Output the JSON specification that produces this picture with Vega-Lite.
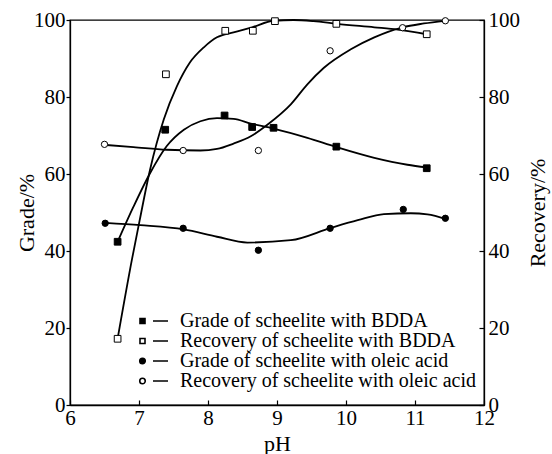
{
  "$schema": "https://vega.github.io/schema/vega-lite/v6.json",
  "width": 414,
  "height": 385,
  "autosize": {"type": "none"},
  "padding": {"left": 70, "top": 20, "right": 68, "bottom": 49},
  "background": "white",
  "config": {
    "font": "'Liberation Serif', 'Times New Roman', Times, serif",
    "view": {"stroke": "black", "strokeWidth": 1.3},
    "axis": {
      "grid": false,
      "domainColor": "black",
      "domainWidth": 1.3,
      "tickColor": "black",
      "tickWidth": 1.2,
      "labelColor": "black",
      "labelFont": "'Liberation Serif', 'Times New Roman', Times, serif",
      "labelFontSize": 21,
      "titleColor": "black",
      "titleFont": "'Liberation Serif', 'Times New Roman', Times, serif",
      "titleFontSize": 22,
      "titleFontWeight": "normal",
      "labelFlush": false,
      "labelOverlap": false
    },
    "legend": {
      "labelFont": "'Liberation Serif', 'Times New Roman', Times, serif",
      "labelFontSize": 20,
      "labelColor": "black",
      "labelLimit": 0,
      "title": null,
      "orient": "none",
      "legendX": 80,
      "legendY": 291,
      "padding": 0,
      "rowPadding": 0,
      "symbolSize": 100,
      "labelOffset": 10,
      "symbolStrokeColor": "black",
      "symbolStrokeWidth": 1.6
    }
  },
  "datasets": {
    "points": [
      {"series": "Grade of scheelite with BDDA", "pH": 6.69, "value": 42.4},
      {"series": "Grade of scheelite with BDDA", "pH": 7.38, "value": 71.5},
      {"series": "Grade of scheelite with BDDA", "pH": 8.24, "value": 75.2},
      {"series": "Grade of scheelite with BDDA", "pH": 8.64, "value": 72.2},
      {"series": "Grade of scheelite with BDDA", "pH": 8.95, "value": 72.0},
      {"series": "Grade of scheelite with BDDA", "pH": 9.86, "value": 67.1},
      {"series": "Grade of scheelite with BDDA", "pH": 11.17, "value": 61.5},
      {"series": "Recovery of scheelite with BDDA", "pH": 6.69, "value": 17.2},
      {"series": "Recovery of scheelite with BDDA", "pH": 7.39, "value": 85.9},
      {"series": "Recovery of scheelite with BDDA", "pH": 8.25, "value": 97.2},
      {"series": "Recovery of scheelite with BDDA", "pH": 8.65, "value": 97.2},
      {"series": "Recovery of scheelite with BDDA", "pH": 8.97, "value": 99.7},
      {"series": "Recovery of scheelite with BDDA", "pH": 9.86, "value": 99.0},
      {"series": "Recovery of scheelite with BDDA", "pH": 11.17, "value": 96.3},
      {"series": "Grade of scheelite with oleic acid", "pH": 6.51, "value": 47.2},
      {"series": "Grade of scheelite with oleic acid", "pH": 7.64, "value": 45.9},
      {"series": "Grade of scheelite with oleic acid", "pH": 8.73, "value": 40.2},
      {"series": "Grade of scheelite with oleic acid", "pH": 9.77, "value": 45.9},
      {"series": "Grade of scheelite with oleic acid", "pH": 10.83, "value": 50.8},
      {"series": "Grade of scheelite with oleic acid", "pH": 11.44, "value": 48.5},
      {"series": "Recovery of scheelite with oleic acid", "pH": 6.5, "value": 67.7},
      {"series": "Recovery of scheelite with oleic acid", "pH": 7.64, "value": 66.1},
      {"series": "Recovery of scheelite with oleic acid", "pH": 8.73, "value": 66.1},
      {"series": "Recovery of scheelite with oleic acid", "pH": 9.77, "value": 92.0},
      {"series": "Recovery of scheelite with oleic acid", "pH": 10.82, "value": 98.0},
      {"series": "Recovery of scheelite with oleic acid", "pH": 11.44, "value": 99.8}
    ],
    "curves": [
      {"series": "Grade of scheelite with BDDA", "pH": 6.7, "value": 42.8},
      {"series": "Grade of scheelite with BDDA", "pH": 6.92, "value": 51.5},
      {"series": "Grade of scheelite with BDDA", "pH": 7.16, "value": 60.2},
      {"series": "Grade of scheelite with BDDA", "pH": 7.4, "value": 67.2},
      {"series": "Grade of scheelite with BDDA", "pH": 7.65, "value": 71.5},
      {"series": "Grade of scheelite with BDDA", "pH": 7.89, "value": 73.7},
      {"series": "Grade of scheelite with BDDA", "pH": 8.13, "value": 74.5},
      {"series": "Grade of scheelite with BDDA", "pH": 8.37, "value": 74.3},
      {"series": "Grade of scheelite with BDDA", "pH": 8.62, "value": 73.1},
      {"series": "Grade of scheelite with BDDA", "pH": 8.95, "value": 71.8},
      {"series": "Grade of scheelite with BDDA", "pH": 9.44, "value": 69.4},
      {"series": "Grade of scheelite with BDDA", "pH": 9.86, "value": 67.0},
      {"series": "Grade of scheelite with BDDA", "pH": 10.41, "value": 64.2},
      {"series": "Grade of scheelite with BDDA", "pH": 10.89, "value": 62.4},
      {"series": "Grade of scheelite with BDDA", "pH": 11.17, "value": 61.7},
      {"series": "Recovery of scheelite with BDDA", "pH": 6.69, "value": 17.2},
      {"series": "Recovery of scheelite with BDDA", "pH": 6.9, "value": 38.0},
      {"series": "Recovery of scheelite with BDDA", "pH": 7.01, "value": 48.0},
      {"series": "Recovery of scheelite with BDDA", "pH": 7.16, "value": 61.1},
      {"series": "Recovery of scheelite with BDDA", "pH": 7.36, "value": 74.2},
      {"series": "Recovery of scheelite with BDDA", "pH": 7.55, "value": 82.8},
      {"series": "Recovery of scheelite with BDDA", "pH": 7.74, "value": 89.0},
      {"series": "Recovery of scheelite with BDDA", "pH": 7.94, "value": 92.9},
      {"series": "Recovery of scheelite with BDDA", "pH": 8.13, "value": 95.5},
      {"series": "Recovery of scheelite with BDDA", "pH": 8.37, "value": 96.8},
      {"series": "Recovery of scheelite with BDDA", "pH": 8.64, "value": 98.1},
      {"series": "Recovery of scheelite with BDDA", "pH": 8.95, "value": 99.8},
      {"series": "Recovery of scheelite with BDDA", "pH": 9.24, "value": 100.0},
      {"series": "Recovery of scheelite with BDDA", "pH": 9.53, "value": 99.7},
      {"series": "Recovery of scheelite with BDDA", "pH": 9.87, "value": 99.0},
      {"series": "Recovery of scheelite with BDDA", "pH": 10.41, "value": 98.1},
      {"series": "Recovery of scheelite with BDDA", "pH": 10.75, "value": 97.5},
      {"series": "Recovery of scheelite with BDDA", "pH": 11.17, "value": 96.3},
      {"series": "Grade of scheelite with oleic acid", "pH": 6.51, "value": 47.3},
      {"series": "Grade of scheelite with oleic acid", "pH": 7.02, "value": 46.7},
      {"series": "Grade of scheelite with oleic acid", "pH": 7.65, "value": 45.6},
      {"series": "Grade of scheelite with oleic acid", "pH": 8.13, "value": 43.7},
      {"series": "Grade of scheelite with oleic acid", "pH": 8.57, "value": 42.2},
      {"series": "Grade of scheelite with oleic acid", "pH": 9.2, "value": 42.8},
      {"series": "Grade of scheelite with oleic acid", "pH": 9.78, "value": 46.0},
      {"series": "Grade of scheelite with oleic acid", "pH": 10.17, "value": 48.0},
      {"series": "Grade of scheelite with oleic acid", "pH": 10.55, "value": 49.6},
      {"series": "Grade of scheelite with oleic acid", "pH": 10.94, "value": 49.8},
      {"series": "Grade of scheelite with oleic acid", "pH": 11.18, "value": 49.5},
      {"series": "Grade of scheelite with oleic acid", "pH": 11.45, "value": 48.3},
      {"series": "Recovery of scheelite with oleic acid", "pH": 6.48, "value": 67.6},
      {"series": "Recovery of scheelite with oleic acid", "pH": 6.92, "value": 67.0},
      {"series": "Recovery of scheelite with oleic acid", "pH": 7.4, "value": 66.3},
      {"series": "Recovery of scheelite with oleic acid", "pH": 7.89, "value": 66.1},
      {"series": "Recovery of scheelite with oleic acid", "pH": 8.13, "value": 66.5},
      {"series": "Recovery of scheelite with oleic acid", "pH": 8.37, "value": 67.9},
      {"series": "Recovery of scheelite with oleic acid", "pH": 8.62, "value": 69.8},
      {"series": "Recovery of scheelite with oleic acid", "pH": 8.86, "value": 72.8},
      {"series": "Recovery of scheelite with oleic acid", "pH": 9.2, "value": 78.1},
      {"series": "Recovery of scheelite with oleic acid", "pH": 9.44, "value": 83.3},
      {"series": "Recovery of scheelite with oleic acid", "pH": 9.68, "value": 87.6},
      {"series": "Recovery of scheelite with oleic acid", "pH": 10.07, "value": 92.4},
      {"series": "Recovery of scheelite with oleic acid", "pH": 10.41, "value": 95.5},
      {"series": "Recovery of scheelite with oleic acid", "pH": 10.82, "value": 98.1},
      {"series": "Recovery of scheelite with oleic acid", "pH": 11.13, "value": 99.1},
      {"series": "Recovery of scheelite with oleic acid", "pH": 11.43, "value": 99.8}
    ]
  },
  "encoding": {
    "x": {
      "field": "pH",
      "type": "quantitative",
      "scale": {"domain": [6, 12], "nice": false, "zero": false},
      "axis": {"title": "pH", "values": [6, 7, 8, 9, 10, 11, 12], "tickSize": -5, "labelPadding": 7, "titlePadding": 5}
    },
    "fill": {
      "field": "series",
      "type": "nominal",
      "scale": {
        "domain": ["Grade of scheelite with BDDA", "Recovery of scheelite with BDDA", "Grade of scheelite with oleic acid", "Recovery of scheelite with oleic acid"],
        "range": ["black", "white", "black", "white"]
      },
      "legend": {
        "title": null,
        "orient": "none",
        "legendX": 80,
        "legendY": 291,
        "symbolType": {"expr": "indexof(datum.value, 'BDDA') >= 0 ? 'M-4,-0.5H-3V0.5H-4ZM-1.4,0H1.6' : 'M-4.05,0A0.55,0.55,0,1,0,-2.95,0A0.55,0.55,0,1,0,-4.05,0ZM-1.4,0H1.6'"},
        "encode": {
          "symbols": {
            "stroke": {"value": "black"},
            "strokeWidth": {"value": 1.6}
          }
        }
      }
    }
  },
  "layer": [
    {
      "encoding": {
        "y": {
          "field": "value",
          "type": "quantitative",
          "scale": {"domain": [0, 100], "nice": false},
          "axis": {"title": "Grade/%", "orient": "left", "values": [0, 20, 40, 60, 80, 100], "tickSize": 4, "labelPadding": 1, "titlePadding": -5}
        }
      },
      "layer": [
        {
          "data": {"name": "curves"},
          "transform": [{"filter": "indexof(datum.series, 'Grade') === 0"}],
          "mark": {"type": "line", "interpolate": "monotone", "color": "black", "strokeWidth": 1.8},
          "encoding": {"detail": {"field": "series"}, "fill": {"value": null}}
        },
        {
          "data": {"name": "points"},
          "transform": [{"filter": "indexof(datum.series, 'Grade') === 0 && indexof(datum.series, 'BDDA') >= 0"}],
          "mark": {"type": "point", "shape": "square", "stroke": "black", "strokeWidth": 1, "opacity": 1, "size": 45}
        },
        {
          "data": {"name": "points"},
          "transform": [{"filter": "indexof(datum.series, 'Grade') === 0 && indexof(datum.series, 'oleic') >= 0"}],
          "mark": {"type": "point", "shape": "circle", "stroke": "black", "strokeWidth": 1, "opacity": 1, "size": 40}
        }
      ]
    },
    {
      "encoding": {
        "y": {
          "field": "value",
          "type": "quantitative",
          "scale": {"domain": [0, 100], "nice": false},
          "axis": {"title": "Recovery/%", "orient": "right", "values": [0, 20, 40, 60, 80, 100], "tickSize": -5, "labelPadding": 9, "titlePadding": 8, "titleAngle": 270, "titleBaseline": "top"}
        }
      },
      "layer": [
        {
          "data": {"name": "curves"},
          "transform": [{"filter": "indexof(datum.series, 'Recovery') === 0"}],
          "mark": {"type": "line", "interpolate": "monotone", "color": "black", "strokeWidth": 1.8},
          "encoding": {"detail": {"field": "series"}, "fill": {"value": null}}
        },
        {
          "data": {"name": "points"},
          "transform": [{"filter": "indexof(datum.series, 'Recovery') === 0 && indexof(datum.series, 'BDDA') >= 0"}],
          "mark": {"type": "point", "shape": "square", "stroke": "black", "strokeWidth": 1, "opacity": 1, "size": 45}
        },
        {
          "data": {"name": "points"},
          "transform": [{"filter": "indexof(datum.series, 'Recovery') === 0 && indexof(datum.series, 'oleic') >= 0"}],
          "mark": {"type": "point", "shape": "circle", "stroke": "black", "strokeWidth": 1, "opacity": 1, "size": 40}
        }
      ]
    }
  ],
  "resolve": {"scale": {"y": "independent"}}
}
